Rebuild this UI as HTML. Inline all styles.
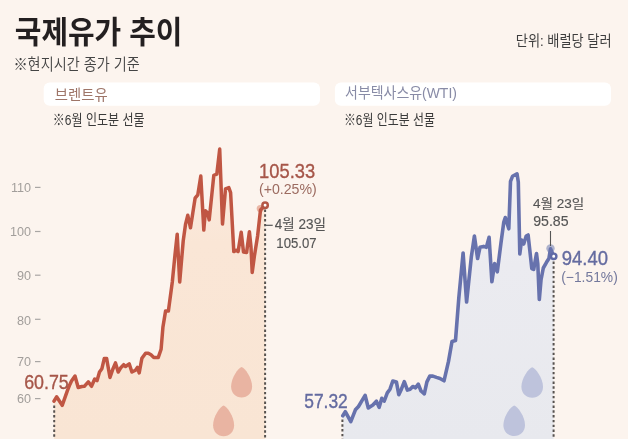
<!DOCTYPE html>
<html><head><meta charset="utf-8"><style>
html,body{margin:0;padding:0;background:#fcf4ee;}
svg{display:block;}
</style></head><body>
<svg width="628" height="439" viewBox="0 0 628 439">
<defs>
<linearGradient id="gL" x1="0" y1="145" x2="0" y2="439" gradientUnits="userSpaceOnUse">
<stop offset="0" stop-color="#fcede3"/><stop offset="0.33" stop-color="#fae6d6"/><stop offset="1" stop-color="#f9e5d4"/></linearGradient>
<linearGradient id="gR" x1="0" y1="170" x2="0" y2="439" gradientUnits="userSpaceOnUse">
<stop offset="0" stop-color="#f2f1f5"/><stop offset="0.35" stop-color="#ebebf0"/><stop offset="1" stop-color="#e8e9ee"/></linearGradient>
</defs>
<rect width="628" height="439" fill="#fcf4ee"/>
<text x="14.85" y="43.25" font-family="'Liberation Sans','Noto Sans CJK KR',sans-serif" font-weight="700" font-size="31.13" fill="#231f20" textLength="167.56" lengthAdjust="spacingAndGlyphs">국제유가 추이</text>
<text x="13.45" y="69.75" font-family="'Liberation Sans','Noto Sans CJK KR',sans-serif" font-weight="350" font-size="15.59" fill="#444" textLength="126.36" lengthAdjust="spacingAndGlyphs">※현지시간 종가 기준</text>
<text x="515.85" y="46.05" font-family="'Liberation Sans','Noto Sans CJK KR',sans-serif" font-weight="400" font-size="14.74" fill="#3d3d3d" textLength="95.73" lengthAdjust="spacingAndGlyphs">단위: 배럴당 달러</text>

<rect x="43.7" y="82.5" width="276.3" height="23.3" rx="6" fill="#ffffff"/>
<rect x="334.9" y="82.5" width="276.1" height="23.3" rx="6" fill="#ffffff"/>
<text x="54.75" y="100.25" font-family="'Liberation Sans','Noto Sans CJK KR',sans-serif" font-weight="400" font-size="14.48" fill="#9e7568" textLength="52.89" lengthAdjust="spacingAndGlyphs">브렌트유</text>
<text x="345.05" y="98.3" font-family="'Liberation Sans','Noto Sans CJK KR',sans-serif" font-weight="400" font-size="14.7" fill="#888ba6" textLength="111.87" lengthAdjust="spacingAndGlyphs">서부텍사스유(WTI)</text>
<text x="52.75" y="125.0" font-family="'Liberation Sans','Noto Sans CJK KR',sans-serif" font-weight="400" font-size="14.72" fill="#3a3a3a" textLength="91.81" lengthAdjust="spacingAndGlyphs">※6월 인도분 선물</text>
<text x="343.9" y="125.0" font-family="'Liberation Sans','Noto Sans CJK KR',sans-serif" font-weight="400" font-size="14.72" fill="#3a3a3a" textLength="91.01" lengthAdjust="spacingAndGlyphs">※6월 인도분 선물</text>

<g font-family="'Liberation Sans','Noto Sans CJK KR',sans-serif" font-weight="300" font-size="12.6" fill="#a29e9b">
<text x="31" y="191.6" text-anchor="end">110</text>
<text x="31" y="236" text-anchor="end">100</text>
<text x="31" y="280" text-anchor="end">90</text>
<text x="31" y="324.5" text-anchor="end">80</text>
<text x="31" y="366.3" text-anchor="end">70</text>
<text x="31" y="403" text-anchor="end">60</text>
</g>
<g stroke="#a9a6a4" stroke-width="1.2">
<line x1="35" y1="187.4" x2="40.5" y2="187.4"/>
<line x1="35" y1="231.5" x2="40.5" y2="231.5"/>
<line x1="35" y1="275.2" x2="40.5" y2="275.2"/>
<line x1="35" y1="319.3" x2="40.5" y2="319.3"/>
<line x1="35" y1="361.6" x2="40.5" y2="361.6"/>
<line x1="35" y1="398.6" x2="40.5" y2="398.6"/>
</g>

<polygon points="54,401.2 56.6,396.8 62.2,405.3 67.4,390.6 69.4,385.5 71.5,381 75,376 78.2,387.5 81.9,386.5 84.3,386.3 88.3,381.8 91.5,386.3 94.7,379 97,380.7 99.5,372 101.9,368.7 104.3,358.4 106.6,358.4 110,377.5 112.8,369.3 115.5,362.9 118.2,372 121,367.4 123.7,364.7 125.5,366.5 129.2,363.8 131.9,372 135.5,370.2 137.4,367.4 139.2,372.9 141.9,358.3 145.6,353.2 148.3,353.2 151,354.7 153.8,357.4 158.3,357.4 161.1,349.2 162.9,327.3 165.6,310.9 168.4,310.9 172.3,282 175,254.6 177.2,234.2 179.7,282 183.2,241 185.5,224.4 187.8,215.3 190.5,227.8 192.8,213 195.1,198.2 197.8,194.8 200.8,176 203.8,230.1 205.4,210.7 207.6,213 209.2,219.9 211.1,201.6 213.8,175.4 216.8,174.2 219.7,149.1 222.5,224 225.5,188.8 228.8,187.6 230.6,192.6 233.8,251.6 236.3,250.3 238.1,251.6 241.2,232.2 243.5,252 246.6,252.5 249.4,231.8 251,247 252.2,272.5 254.4,256 257.6,236 260.5,210 265.1,205.2 265.1,439 54,439" fill="url(#gL)"/>
<polygon points="342.8,415.8 345.3,411.7 350.8,421.6 355.4,409.8 358.5,406.5 362.1,400.4 365.1,395.3 368.3,408 372.9,405 376.4,401.1 379.1,407.4 381.8,398.3 384.2,401.1 387.3,392.9 390,389.2 392.8,381 396.4,381.9 398.8,394.7 401.4,389.2 404.3,381.6 407.4,390.1 410.1,389.2 412.8,386.5 415.6,387.8 418.3,384.1 421,391 424.3,393.8 426.9,381.9 429.8,376.1 432.9,376.1 436.5,377.4 440,378.5 444,380.8 448.5,361.4 452,341.5 455.5,340.5 458.8,298.1 463.1,253 466.6,302 471.3,257.1 474.4,236 477.6,258.5 480,247.3 483.6,246.4 486.4,247.3 489.1,237.3 491.9,281.8 494.6,263.6 497.3,271.8 500.9,243.6 503.8,222 505.3,217.5 507.3,224 508.8,228.8 510.5,181.3 512.5,176.3 517,173.8 518.3,182 519.8,254 521.6,240 523.7,244 526.2,236 528.1,235 529.5,247.5 531.8,268.5 533.7,269.4 536.5,253.5 537.8,264 539.3,299.5 541,280 543.3,268 546.5,262.3 548.9,258.5 550.5,248.7 553.6,255.9 553.6,439 342.8,439" fill="url(#gR)"/>

<path d="M241.6,367 C244.96,367.918 252.1,378.016 252.1,386.584 C252.1,393.316 247.375,397.6 241.6,397.6 C235.825,397.6 231.1,393.316 231.1,386.584 C231.1,378.016 238.24,367.918 241.6,367 Z" fill="#e9b4a2"/>
<path d="M223.6,405.6 C226.96,406.518 234.1,416.616 234.1,425.184 C234.1,431.916 229.375,436.2 223.6,436.2 C217.825,436.2 213.1,431.916 213.1,425.184 C213.1,416.616 220.24,406.518 223.6,405.6 Z" fill="#e9b4a2"/>
<path d="M532.2,367.2 C535.656,368.118 543,378.216 543,386.784 C543,393.516 538.14,397.8 532.2,397.8 C526.26,397.8 521.4,393.516 521.4,386.784 C521.4,378.216 528.744,368.118 532.2,367.2 Z" fill="#bec3dc"/>
<path d="M514.2,405.5 C517.656,406.418 525,416.516 525,425.084 C525,431.816 520.14,436.1 514.2,436.1 C508.26,436.1 503.4,431.816 503.4,425.084 C503.4,416.516 510.744,406.418 514.2,405.5 Z" fill="#bec3dc"/>

<g stroke="#57524f" stroke-width="2" stroke-dasharray="2.4 2.4">
<line x1="54.2" y1="405.5" x2="54.2" y2="439"/>
<line x1="265.1" y1="209.5" x2="265.1" y2="439"/>
<line x1="342.4" y1="419.5" x2="342.4" y2="439"/>
<line x1="553.6" y1="261.5" x2="553.6" y2="439"/>
</g>

<circle cx="260.3" cy="208.6" r="3.6" fill="#eab6a5"/>
<circle cx="550.5" cy="248.5" r="4.2" fill="#aeb2cc"/>
<polyline points="54,401.2 56.6,396.8 62.2,405.3 67.4,390.6 69.4,385.5 71.5,381 75,376 78.2,387.5 81.9,386.5 84.3,386.3 88.3,381.8 91.5,386.3 94.7,379 97,380.7 99.5,372 101.9,368.7 104.3,358.4 106.6,358.4 110,377.5 112.8,369.3 115.5,362.9 118.2,372 121,367.4 123.7,364.7 125.5,366.5 129.2,363.8 131.9,372 135.5,370.2 137.4,367.4 139.2,372.9 141.9,358.3 145.6,353.2 148.3,353.2 151,354.7 153.8,357.4 158.3,357.4 161.1,349.2 162.9,327.3 165.6,310.9 168.4,310.9 172.3,282 175,254.6 177.2,234.2 179.7,282 183.2,241 185.5,224.4 187.8,215.3 190.5,227.8 192.8,213 195.1,198.2 197.8,194.8 200.8,176 203.8,230.1 205.4,210.7 207.6,213 209.2,219.9 211.1,201.6 213.8,175.4 216.8,174.2 219.7,149.1 222.5,224 225.5,188.8 228.8,187.6 230.6,192.6 233.8,251.6 236.3,250.3 238.1,251.6 241.2,232.2 243.5,252 246.6,252.5 249.4,231.8 251,247 252.2,272.5 254.4,256 257.6,236 260.5,210 265.1,205.2" fill="none" stroke="#c05643" stroke-width="3.5" stroke-linejoin="round" stroke-linecap="round"/>
<polyline points="342.8,415.8 345.3,411.7 350.8,421.6 355.4,409.8 358.5,406.5 362.1,400.4 365.1,395.3 368.3,408 372.9,405 376.4,401.1 379.1,407.4 381.8,398.3 384.2,401.1 387.3,392.9 390,389.2 392.8,381 396.4,381.9 398.8,394.7 401.4,389.2 404.3,381.6 407.4,390.1 410.1,389.2 412.8,386.5 415.6,387.8 418.3,384.1 421,391 424.3,393.8 426.9,381.9 429.8,376.1 432.9,376.1 436.5,377.4 440,378.5 444,380.8 448.5,361.4 452,341.5 455.5,340.5 458.8,298.1 463.1,253 466.6,302 471.3,257.1 474.4,236 477.6,258.5 480,247.3 483.6,246.4 486.4,247.3 489.1,237.3 491.9,281.8 494.6,263.6 497.3,271.8 500.9,243.6 503.8,222 505.3,217.5 507.3,224 508.8,228.8 510.5,181.3 512.5,176.3 517,173.8 518.3,182 519.8,254 521.6,240 523.7,244 526.2,236 528.1,235 529.5,247.5 531.8,268.5 533.7,269.4 536.5,253.5 537.8,264 539.3,299.5 541,280 543.3,268 546.5,262.3 548.9,258.5 550.5,248.7 553.6,255.9" fill="none" stroke="#6772ad" stroke-width="3.6" stroke-linejoin="round" stroke-linecap="round"/>

<circle cx="265.1" cy="205.2" r="2.7" fill="#fff" stroke="#b45745" stroke-width="2.5"/>
<circle cx="553.7" cy="256.3" r="2.7" fill="#fff" stroke="#5f69a6" stroke-width="2.4"/>

<text x="24.15" y="389.05" font-family="'Liberation Sans','Noto Sans CJK KR',sans-serif" font-weight="400" font-size="19.39" fill="#a65649" stroke="#a65649" stroke-width="0.35" textLength="44.67" lengthAdjust="spacingAndGlyphs">60.75</text>
<text x="259.1" y="177.95" font-family="'Liberation Sans','Noto Sans CJK KR',sans-serif" font-weight="400" font-size="20.17" fill="#a65649" stroke="#a65649" stroke-width="0.35" textLength="56.08" lengthAdjust="spacingAndGlyphs">105.33</text>
<text x="258.95" y="194.35" font-family="'Liberation Sans','Noto Sans CJK KR',sans-serif" font-weight="400" font-size="14.09" fill="#9c6b60" textLength="57.85" lengthAdjust="spacingAndGlyphs">(+0.25%)</text>
<line x1="265" y1="225.3" x2="272.7" y2="225.3" stroke="#555" stroke-width="1.2"/>
<text x="274.8" y="229.2" font-family="'Liberation Sans','Noto Sans CJK KR',sans-serif" font-weight="400" font-size="13.88" fill="#555" stroke="#555" stroke-width="0.15" textLength="51.16" lengthAdjust="spacingAndGlyphs">4월 23일</text>
<text x="276.35" y="247.75" font-family="'Liberation Sans','Noto Sans CJK KR',sans-serif" font-weight="400" font-size="14.72" fill="#555" stroke="#555" stroke-width="0.15" textLength="40.22" lengthAdjust="spacingAndGlyphs">105.07</text>

<text x="304.2" y="408.05" font-family="'Liberation Sans','Noto Sans CJK KR',sans-serif" font-weight="400" font-size="19.83" fill="#646ba0" stroke="#646ba0" stroke-width="0.35" textLength="43.6" lengthAdjust="spacingAndGlyphs">57.32</text>
<text x="533.1" y="207.8" font-family="'Liberation Sans','Noto Sans CJK KR',sans-serif" font-weight="400" font-size="12.78" fill="#555" stroke="#555" stroke-width="0.15" textLength="51.2" lengthAdjust="spacingAndGlyphs">4월 23일</text>
<text x="533.2" y="226.1" font-family="'Liberation Sans','Noto Sans CJK KR',sans-serif" font-weight="400" font-size="14.84" fill="#555" stroke="#555" stroke-width="0.15" textLength="35.34" lengthAdjust="spacingAndGlyphs">95.85</text>
<line x1="550.5" y1="231" x2="550.5" y2="246" stroke="#555" stroke-width="1.1"/>
<text x="561.75" y="265.25" font-family="'Liberation Sans','Noto Sans CJK KR',sans-serif" font-weight="400" font-size="20.28" fill="#646ba0" stroke="#646ba0" stroke-width="0.35" textLength="46.25" lengthAdjust="spacingAndGlyphs">94.40</text>
<text x="561.25" y="282.0" font-family="'Liberation Sans','Noto Sans CJK KR',sans-serif" font-weight="400" font-size="14.09" fill="#73789c" textLength="56.5" lengthAdjust="spacingAndGlyphs">(−1.51%)</text>
</svg>
</body></html>
